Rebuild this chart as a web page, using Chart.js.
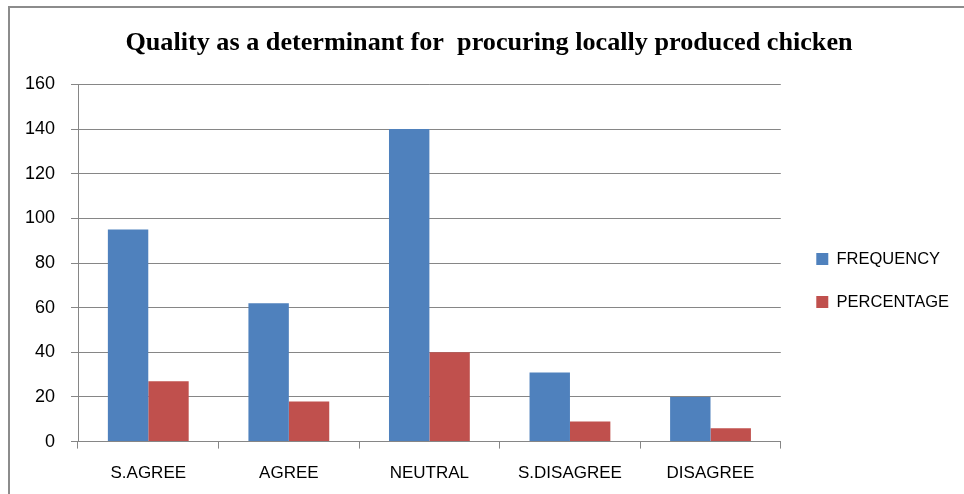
<!DOCTYPE html>
<html>
<head>
<meta charset="utf-8">
<script src="https://cdn.jsdelivr.net/npm/chart.js@4"></script>
<style>
  html, body { margin: 0; padding: 0; background: #fff; overflow: hidden; }
  #frame {
    position: absolute; left: 8px; top: 6px; width: 1000px; height: 600px;
    border-left: 2px solid #8c8c8c; border-top: 2px solid #8c8c8c;
  }
  #wrap { position: absolute; left: 0; top: 0; width: 958px; height: 491px; }
</style>
</head>
<body>
<div id="frame"><div id="wrap"><canvas id="chart"></canvas></div></div>
<script>
const categories = ['S.AGREE', 'AGREE', 'NEUTRAL', 'S.DISAGREE', 'DISAGREE'];
const frequency = [95, 62, 140, 31, 20];
const percentage = [27, 18, 40, 9, 6];
const yTicks = [0, 20, 40, 60, 80, 100, 120, 140, 160];

const gridColor = '#868686';
const labelFont = { family: 'Liberation Sans', size: 17 };

new Chart(document.getElementById('chart'), {
    type: 'bar',
    data: {
        labels: categories,
        datasets: [
            { label: 'FREQUENCY', data: frequency, backgroundColor: '#4F81BD' },
            { label: 'PERCENTAGE', data: percentage, backgroundColor: '#C0504D' }
        ]
    },
    options: {
        responsive: true,
        maintainAspectRatio: false,
        animation: false,
        datasets: { bar: { categoryPercentage: 0.575, barPercentage: 1 } },
        layout: { padding: { left: 9, right: 9, top: 0, bottom: 0 } },
        plugins: {
            title: {
                display: true,
                text: 'Quality as a determinant for  procuring locally produced chicken',
                color: '#000',
                font: { family: 'Liberation Serif', size: 26.2, weight: 'bold' },
                padding: { top: 20, bottom: 25 }
            },
            legend: {
                position: 'right',
                align: 'center',
                maxWidth: 179,
                // empty title only nudges the items down a little
                title: { display: true, text: '', font: { size: 10 }, padding: 21 },
                labels: {
                    boxWidth: 12, boxHeight: 12, padding: 26.5,
                    color: '#000', font: { family: 'Liberation Sans', size: 16.5 }
                }
            },
            tooltip: { enabled: false }
        },
        scales: {
            x: {
                grid: { offset: true, drawOnChartArea: false, color: gridColor, tickLength: 7 },
                border: { color: gridColor },
                ticks: { color: '#000', font: labelFont, padding: 15 }
            },
            y: {
                min: 0,
                max: 160,
                afterBuildTicks: axis => { axis.ticks = yTicks.map(v => ({ value: v })); },
                afterFit: axis => { axis.width = 59; },
                grid: { color: gridColor, tickLength: 7 },
                border: { color: gridColor },
                ticks: { color: '#000', font: { family: 'Liberation Sans', size: 18 }, padding: 16 }
            },
            // blank spacer between plot and legend
            gap: {
                type: 'linear',
                position: 'right',
                grid: { display: false },
                border: { display: false },
                ticks: { display: false },
                afterFit: axis => { axis.width = 9; }
            }
        }
    }
});
</script>
</body>
</html>
